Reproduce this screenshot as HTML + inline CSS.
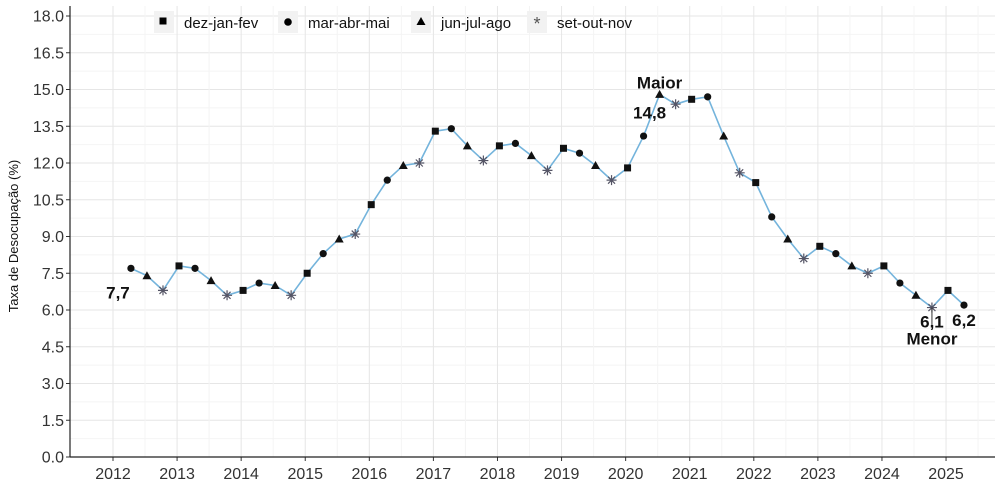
<!DOCTYPE html>
<html><head><meta charset="utf-8"><style>
body{margin:0;background:#fff;}
svg{font-family:"Liberation Sans",sans-serif;display:block;}
</style></head><body>
<svg id="chart" width="996" height="496" viewBox="0 0 996 496">
<g id="grid"></g>
<g id="axes"></g>
<g id="series"></g>
<text transform="translate(18,236) rotate(-90)" text-anchor="middle" font-size="13" fill="#111">Taxa de Desocupação (%)</text>
<g font-size="15" fill="#111">
<g><rect x="154" y="11" width="20" height="22" fill="#f2f2f2"/><rect x="159.5" y="17.5" width="7" height="7" fill="#000"/><text x="184" y="28">dez-jan-fev</text></g>
<g><rect x="278" y="11" width="20" height="22" fill="#f2f2f2"/><circle cx="288" cy="22" r="3.8" fill="#000"/><text x="308" y="28">mar-abr-mai</text></g>
<g><rect x="411" y="11" width="20" height="22" fill="#f2f2f2"/><path d="M421 17 L425.5 25 L416.5 25Z" fill="#000"/><text x="441" y="28">jun-jul-ago</text></g>
<g><rect x="527" y="11" width="20" height="22" fill="#f2f2f2"/><text x="537" y="30" text-anchor="middle" font-size="18" fill="#555">*</text><text x="557" y="28">set-out-nov</text></g>
</g>
</svg>
<script>
const years = [2012,2013,2014,2015,2016,2017,2018,2019,2020,2021,2022,2023,2024,2025];
const yTicks = [0,1.5,3,4.5,6,7.5,9,10.5,12,13.5,15,16.5,18];
const yTickLabels = ["0.0","1.5","3.0","4.5","6.0","7.5","9.0","10.5","12.0","13.5","15.0","16.5","18.0"];
const startYear = 2012;
const startQuarter = 1; // 0=djf,1=mam,2=jja,3=son
const rates = [7.7,7.4,6.8,
 7.8,7.7,7.2,6.6,
 6.8,7.1,7.0,6.6,
 7.5,8.3,8.9,9.1,
 10.3,11.3,11.9,12.0,
 13.3,13.4,12.7,12.1,
 12.7,12.8,12.3,11.7,
 12.6,12.4,11.9,11.3,
 11.8,13.1,14.8,14.4,
 14.6,14.7,13.1,11.6,
 11.2,9.8,8.9,8.1,
 8.6,8.3,7.8,7.5,
 7.8,7.1,6.6,6.1,
 6.8,6.2];

const NS="http://www.w3.org/2000/svg";
const L=70,R=995,T=16,B=457;
const x=t=>113+(t-2012)*64.08;
const y=v=>B-(v/18)*(B-T);
function mk(tag,attrs,parent){const e=document.createElementNS(NS,tag);for(const k in attrs)e.setAttribute(k,attrs[k]);parent.appendChild(e);return e;}
const grid=document.getElementById('grid'),axes=document.getElementById('axes'),series=document.getElementById('series');
for(let i=0;i<yTicks.length;i++){
 if(i<yTicks.length-1){const m=mk('line',{x1:L,x2:R,y1:y(yTicks[i]+0.75),y2:y(yTicks[i]+0.75),stroke:'#f4f4f4','stroke-width':1},grid);
  
  }
 const g=mk('line',{x1:L,x2:R,y1:y(yTicks[i]),y2:y(yTicks[i]),stroke:'#e6e6e6','stroke-width':1},grid);
 
 
 const tk=mk('line',{x1:L-4,x2:L,y1:y(yTicks[i]),y2:y(yTicks[i]),stroke:'#333'},axes);
 
 
 const t=mk('text',{x:L-6,y:y(yTicks[i])+5.5,'text-anchor':'end','font-size':16,fill:'#333'},axes);
 t.textContent=yTickLabels[i];
 
 
}
for(let i=0;i<years.length;i++){
 const m=mk('line',{x1:x(years[i]+0.5),x2:x(years[i]+0.5),y1:T-10,y2:B,stroke:'#f4f4f4'},grid);
 
 
 const g=mk('line',{x1:x(years[i]),x2:x(years[i]),y1:T-10,y2:B,stroke:'#e6e6e6'},grid);
 
 
 const tk=mk('line',{x1:x(years[i]),x2:x(years[i]),y1:B,y2:B+4,stroke:'#333'},axes);
 
 
 const t=mk('text',{x:x(years[i]),y:B+22,'text-anchor':'middle','font-size':16,fill:'#333'},axes);
 t.textContent=years[i];
 
 
}
const ax1=mk('line',{x1:L,x2:L,y1:T-10,y2:B,stroke:'#222','stroke-width':1.2},axes);


const ax2=mk('line',{x1:L,x2:R,y1:B,y2:B,stroke:'#222','stroke-width':1.2},axes);



const pts=rates.map((v,i)=>{const q=startQuarter+i;return {t:startYear+Math.floor(q/4)+(q%4)*0.25+0.03,q:q%4,v};});
const line=mk('polyline',{points:pts.map(p=>x(p.t)+','+y(p.v)).join(' '),fill:'none',stroke:'#74b4dc','stroke-width':1.6},series);


pts.forEach(p=>{
 const cx=x(p.t),cy=y(p.v);let e;
 if(p.q===0)e=mk('rect',{x:cx-3.5,y:cy-3.5,width:7,height:7,fill:'#111'},series);
 else if(p.q===1)e=mk('circle',{cx,cy,r:3.6,fill:'#111'},series);
 else if(p.q===2)e=mk('path',{d:`M${cx} ${cy-4.5}L${cx+4.5} ${cy+3.5}L${cx-4.5} ${cy+3.5}Z`,fill:'#111'},series);
 else {e=mk('path',{d:`M${cx-5} ${cy}H${cx+5}M${cx} ${cy-5}V${cy+5}M${cx-3.5} ${cy-3.5}L${cx+3.5} ${cy+3.5}M${cx-3.5} ${cy+3.5}L${cx+3.5} ${cy-3.5}`,stroke:'#556','stroke-width':1.2},series);}
 
 
});
function lab(txt,px,py,name){const t=mk('text',{x:px,y:py,'text-anchor':'middle','font-size':17,'font-weight':'bold',fill:'#111'},series);t.textContent=txt;
 
 }
const first=pts[0],mx=pts.reduce((a,b)=>b.v>a.v?b:a),mn=pts.reduce((a,b)=>b.v<a.v?b:a),last=pts[pts.length-1];
lab(String(first.v).replace('.',','),x(first.t)-13,y(first.v)+30,'first-value-label');
lab('Maior',x(mx.t),y(mx.v)-6,'max-label');
lab(String(mx.v).replace('.',','),x(mx.t)-10,y(mx.v)+24,'max-value-label');
const ml=mk('line',{x1:x(mn.t),x2:x(mn.t),y1:y(mn.v),y2:y(mn.v)+20,stroke:'#333'},series);


lab(String(mn.v).replace('.',','),x(mn.t),y(mn.v)+20,'min-value-label');
lab('Menor',x(mn.t),y(mn.v)+37,'min-label');
lab(String(last.v).replace('.',','),x(last.t),y(last.v)+21,'last-value-label');
</script>
</body></html>
